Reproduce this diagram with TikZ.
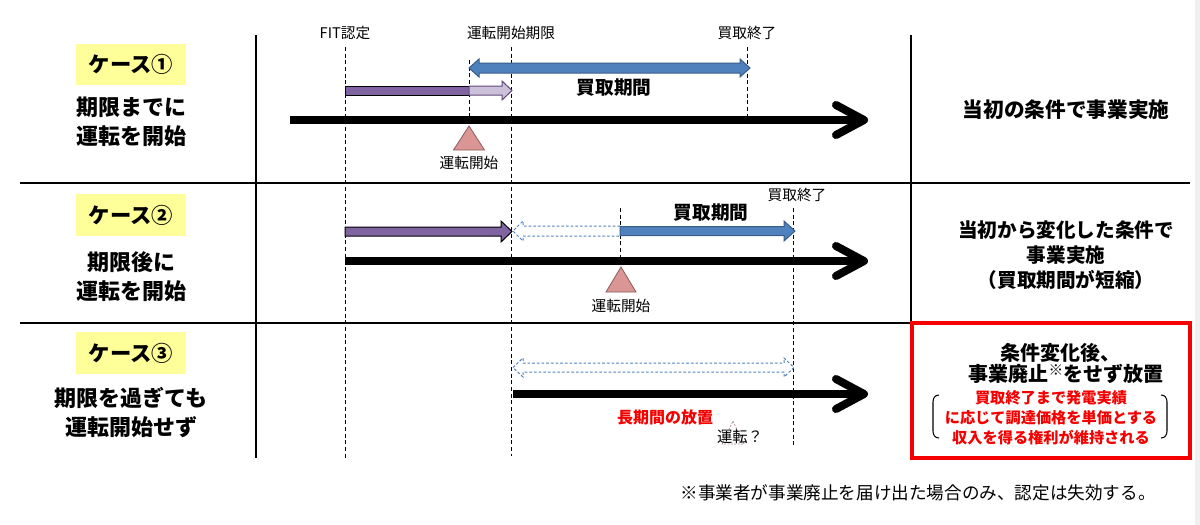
\documentclass[tikz,border=0pt]{standalone}
\usepackage{fontspec}
\setmainfont{Noto Sans CJK JP}
\usetikzlibrary{positioning}

\definecolor{caseyellow}{RGB}{255,255,153}
\definecolor{barpurple}{RGB}{128,100,162}
\definecolor{lightpurple}{RGB}{204,193,218}
\definecolor{edgepurple}{RGB}{96,74,123}
\definecolor{barblue}{RGB}{79,129,189}
\definecolor{edgeblue}{RGB}{56,93,138}
\definecolor{tripink}{RGB}{217,150,148}
\definecolor{tribrown}{RGB}{140,90,90}
\definecolor{alertred}{RGB}{245,0,0}

\tikzset{every picture/.style={line width=0.75pt}}
\tikzset{
  lbl/.style={inner sep=0pt, font=\fontsize{11}{13}\selectfont},
  periodlbl/.style={inner sep=0pt, font=\bfseries\fontsize{14}{16}\selectfont},
  casebox/.style={fill=caseyellow, inner sep=0pt, minimum width=82pt, minimum height=31pt, font=\bfseries\fontsize{16}{18}\selectfont},
  casetext/.style={inner sep=0pt, align=center, font=\bfseries\fontsize{16.5}{21.75}\selectfont},
  resulttext/.style={inner sep=0pt, align=center, font=\bfseries\fontsize{15}{19}\selectfont},
  guide/.style={dash pattern=on 3pt off 2pt, line width=0.75pt},
  timeaxis/.style={line width=6pt},
  axishead/.style={line width=6pt, line cap=round, line join=round},
  frameline/.style={line width=1.2pt},
  starttri/.style={fill=tripink, draw=tribrown, line width=0.6pt}
}

\begin{document}
\begin{tikzpicture}[x=0.75pt,y=0.75pt,yscale=-1,xscale=1]
\useasboundingbox (0,0) rectangle (1200,525);

%Right edge strip
\fill [gray!12] (1195,0) rectangle (1200,525);

%Frame lines
\draw [frameline] (256,35) -- (256,458);
\draw [frameline] (911,35) -- (911,323);
\draw [frameline] (20,183) -- (1190,183);
\draw [frameline] (20,323) -- (912,323);

%Guide lines (dashed)
\draw [guide] (345,47) -- (345,460);
\draw [guide] (511,47) -- (511,456);
\draw [guide] (469,60) -- (469,121);
\draw [guide] (747,47) -- (747,120);
\draw [guide] (620,208) -- (620,262);
\draw [guide] (793,208) -- (793,447);

%Top labels
\node [lbl] (fitlbl) at (345,33) {FIT認定};
\node [lbl] (limitlbl) at (511,33) {運転開始期限};
\node [lbl] (endlbl) at (747,33) {買取終了};

%%%%% Case 1
\node [casebox] (case1) at (131,64.5) {ケース①};
\node [casetext] (case1txt) at (131,122) {期限までに\\運転を開始};

%Blue double arrow
\draw [fill=barblue, draw=edgeblue] (469,68) -- (479,59) -- (479,63) -- (740,63) -- (740,59) -- (750,68) -- (740,77) -- (740,73) -- (479,73) -- (479,77) -- cycle;
%Purple bar
\draw [fill=barpurple, draw=black] (345,86) rectangle (469,95);
%Light purple arrow
\draw [fill=lightpurple, draw=edgepurple] (469,86) -- (502,86) -- (502,81) -- (512,90.5) -- (502,100) -- (502,95) -- (469,95) -- cycle;
\node [periodlbl] (period1) at (614,88) {買取期間};

%Time axis
\draw [timeaxis] (290,120) -- (862,120);
\draw [axishead] (836,105) -- (864,120) -- (836,135);

%Start marker
\draw [starttri] (469,126) -- (484.5,150) -- (453.5,150) -- cycle;
\node [lbl] (start1) at (469,163) {運転開始};

\node [resulttext, font=\bfseries\fontsize{15.5}{19}\selectfont] (result1) at (1066,110) {当初の条件で事業実施};

%%%%% Case 2
\node [casebox] (case2) at (131,215) {ケース②};
\node [casetext] (case2txt) at (131,277) {期限後に\\運転を開始};

\node [lbl] (endlbl2) at (797,195) {買取終了};
\node [periodlbl] (period2) at (711,213) {買取期間};

%Purple arrow
\draw [fill=barpurple, draw=black] (345,227) -- (501,227) -- (501,221) -- (512,231.5) -- (501,242) -- (501,236) -- (345,236) -- cycle;
%Dashed arrow (lost period)
\draw [draw=barblue, dash pattern=on 2pt off 1.5pt] (620,226) -- (523,226) -- (523,221) -- (513,231) -- (523,241) -- (523,236) -- (620,236);
%Blue arrow
\draw [fill=barblue, draw=edgeblue] (620,226.5) -- (784,226.5) -- (784,221) -- (795,231) -- (784,241) -- (784,235.5) -- (620,235.5) -- cycle;

%Time axis
\draw [timeaxis] (345,261) -- (862,261);
\draw [axishead] (836,246) -- (864,261) -- (836,276);

%Start marker
\draw [starttri] (621,267) -- (636,292) -- (606,292) -- cycle;
\node [lbl] (start2) at (621,306) {運転開始};

\node [resulttext, font=\bfseries\fontsize{14.7}{18.5}\selectfont] (result2) at (1066,255) {当初から変化した条件で\\事業実施\\（買取期間が短縮）};

%%%%% Case 3
\node [casebox] (case3) at (131,353) {ケース③};
\node [casetext] (case3txt) at (131,413) {期限を過ぎても\\運転開始せず};

%Dashed double arrow
\draw [draw=barblue, dash pattern=on 2pt off 1.5pt] (513,367.5) -- (523,358) -- (523,363) -- (784,363) -- (784,358) -- (794,367.5) -- (784,377) -- (784,372) -- (523,372) -- (523,377) -- cycle;

%Time axis
\draw [timeaxis] (513,394) -- (862,394);
\draw [axishead] (836,379) -- (864,394) -- (836,409);

\node [inner sep=0pt, text=alertred, font=\bfseries\fontsize{12}{14}\selectfont] (neglect) at (665,417) {長期間の放置};
%Faint start marker
\draw [draw=tribrown!70, dash pattern=on 1.5pt off 1pt, line width=0.5pt] (733,421) -- (744,444) -- (722,444) -- cycle;
\node [lbl, font=\fontsize{11.5}{13}\selectfont] (start3) at (740,437) {運転？};

%Red result box
\draw [draw=alertred, line width=3pt] (912,323) rectangle (1190,458);
\node [resulttext] (result3a) at (1060,353) {条件変化後、};
\node [resulttext] (result3b) at (1066,374) {事業廃止\raisebox{0.3em}{\fontsize{11}{11}\selectfont ※}をせず放置};
\node [inner sep=0pt, align=center, text=alertred, font=\bfseries\fontsize{11.4}{15}\selectfont] (rights) at (1051,418) {買取終了まで発電実績\\に応じて調達価格を単価とする\\収入を得る権利が維持される};
%Brackets
\draw [line width=0.8pt] (939,395) .. controls (935,395) and (933,398) .. (933,402) -- (933,431) .. controls (933,435) and (935,438) .. (939,438);
\draw [line width=0.8pt] (1161,395) .. controls (1165,395) and (1167,398) .. (1167,402) -- (1167,431) .. controls (1167,435) and (1165,438) .. (1161,438);

%Footnote
\node [inner sep=0pt, font=\fontsize{13.2}{15}\selectfont] (note) at (918,493) {※事業者が事業廃止を届け出た場合のみ、認定は失効する。};

\end{tikzpicture}
\end{document}
